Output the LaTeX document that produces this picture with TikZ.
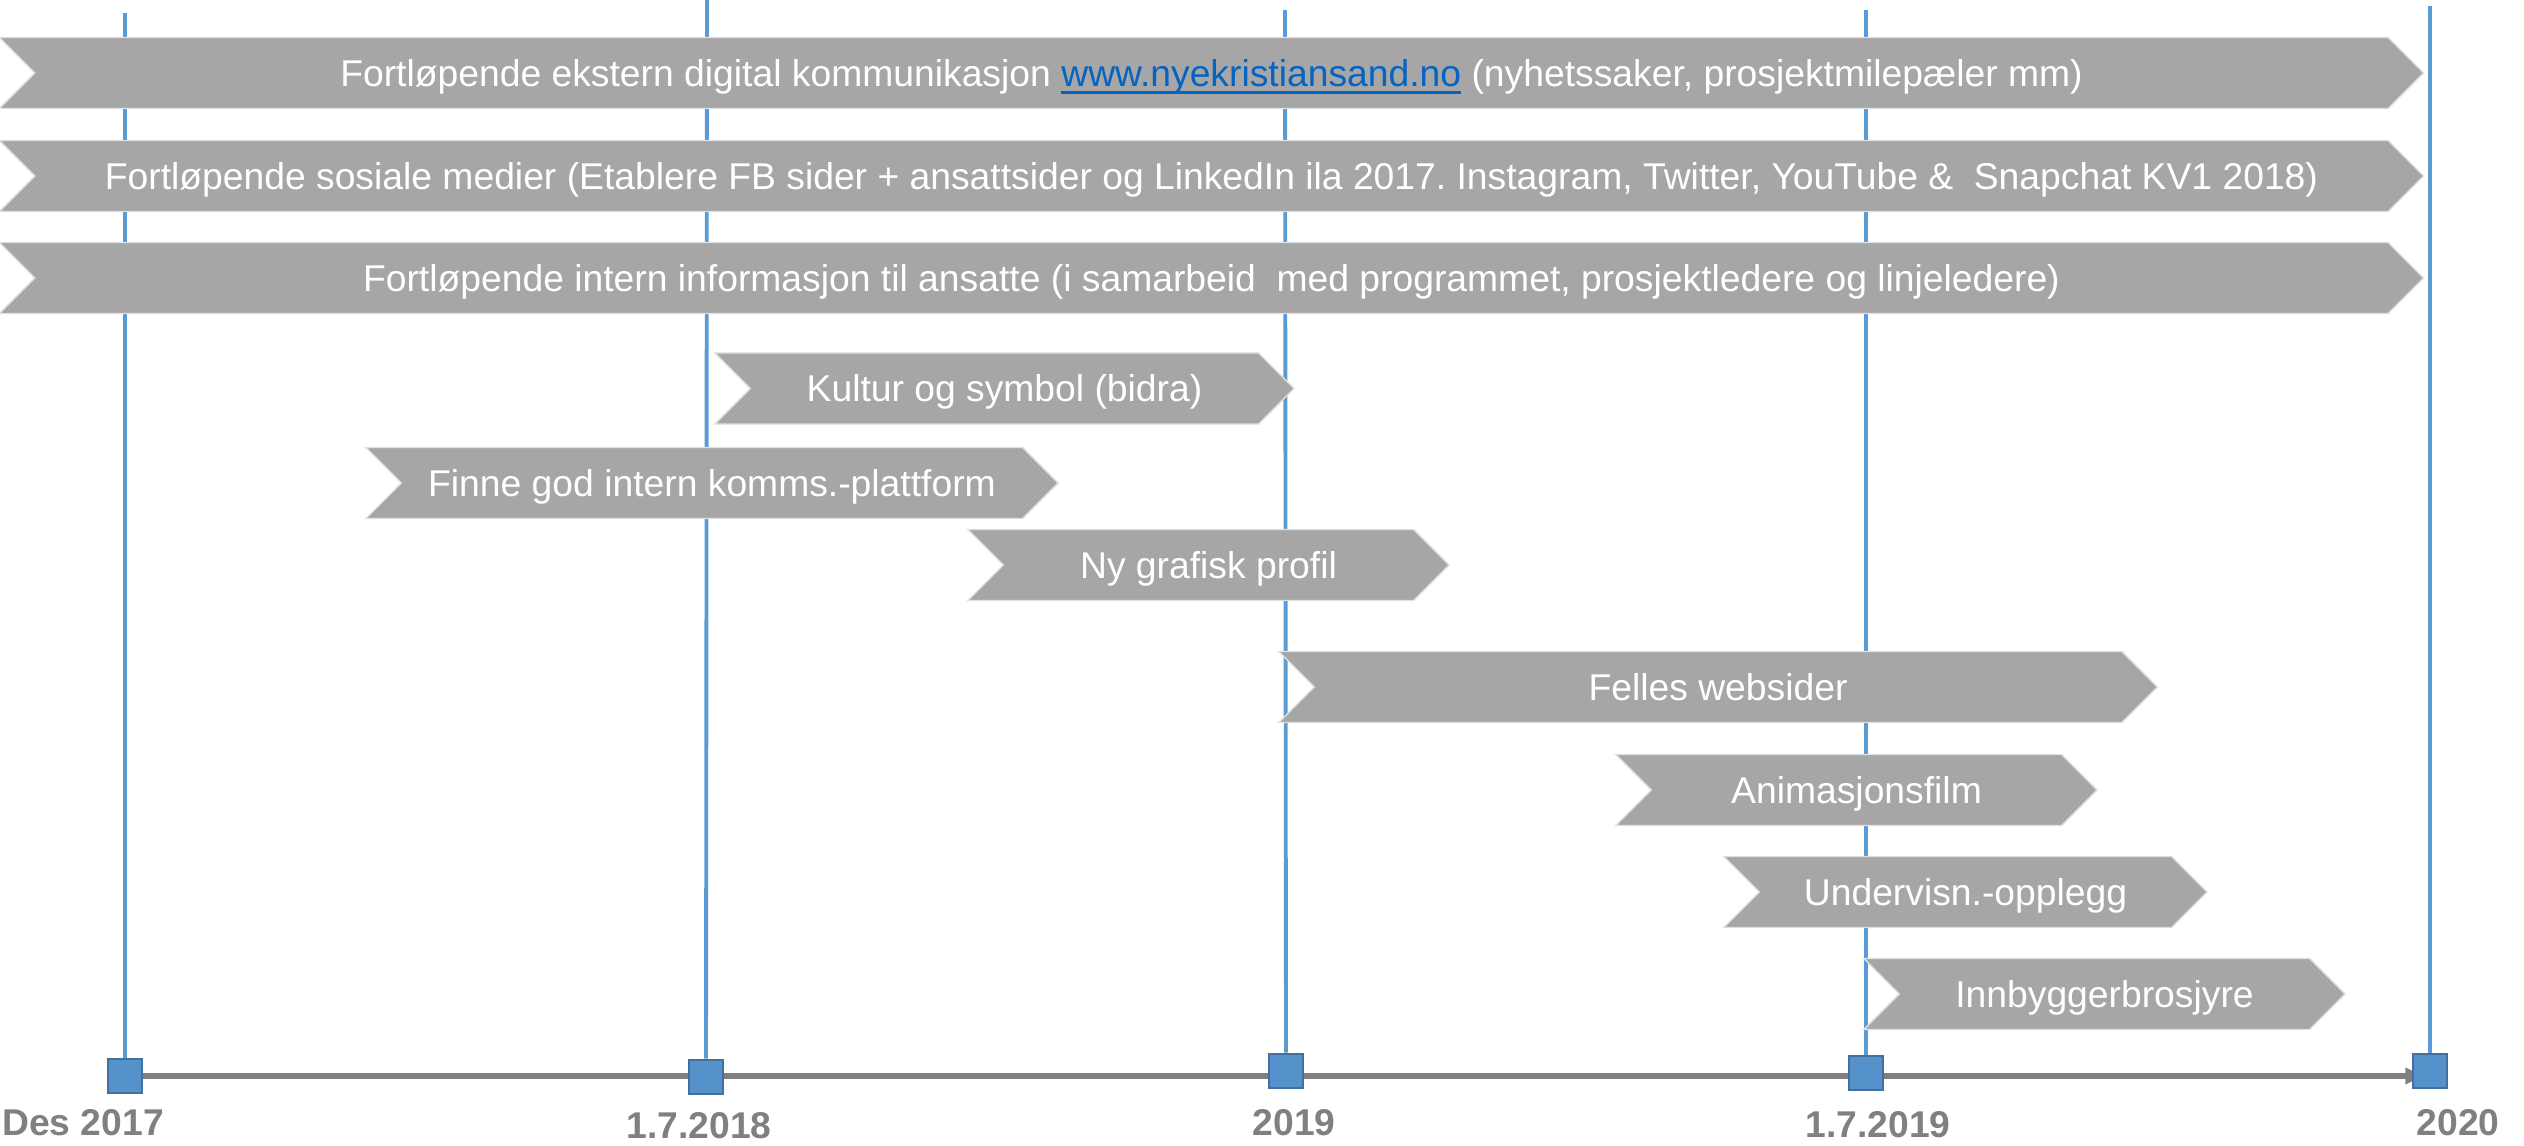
\documentclass[tikz,border=0pt]{standalone}
\usepackage{fontspec}
\setmainfont{Liberation Sans}
\usetikzlibrary{shapes.symbols}
\usetikzlibrary{backgrounds}
\usetikzlibrary{arrows.meta}
\definecolor{barGray}{RGB}{166,166,166}
\definecolor{lineBlue}{RGB}{91,155,213}
\definecolor{boxBlue}{RGB}{85,146,204}
\definecolor{boxEdge}{RGB}{65,113,156}
\definecolor{urlBlue}{RGB}{5,99,193}
\definecolor{dateGray}{RGB}{128,128,128}
\newcommand{\weblink}[1]{\setbox0\hbox{#1}\rlap{\rule[-2.3pt]{\wd0}{0.85pt}}\box0}
\frenchspacing

\begin{document}
\begin{tikzpicture}[x = 0.01cm, y = -0.01cm, task node/.style={signal, signal from=west, signal to=east, signal pointer angle=90, fill=barGray, draw=gray!25, line width=0.4pt, minimum height=0.71cm, inner sep=0pt, text height=0.75em, text depth=0pt, text=white, font=\fontsize{10.6}{12}\selectfont}, tick box/.style={rectangle, fill=boxBlue, draw=boxEdge, line width=0.75pt, minimum width=0.34cm, minimum height=0.34cm, inner sep=0pt}, date node/.style={anchor=base, text=dateGray, font=\fontsize{10.6}{12}\selectfont\bfseries}, time line/.style={line width=1.1pt, draw=lineBlue}]
      \useasboundingbox (0, 0) rectangle (2524, 1145);
      \node[task node, minimum width=24.23cm] (ekstern) at (1211.5, 73) {Fortløpende ekstern digital kommunikasjon \textcolor{urlBlue}{\weblink{www.nyekristiansand.no}} (nyhetssaker, prosjektmilepæler mm)};
      \node[task node, minimum width=24.23cm] (sosiale) at (1211.5, 176) {Fortløpende sosiale medier (Etablere FB sider + ansattsider og LinkedIn ila 2017. Instagram, Twitter, YouTube \&\ \ Snapchat KV1 2018)};
      \node[task node, minimum width=24.23cm] (intern) at (1211.5, 278) {Fortløpende intern informasjon til ansatte (i samarbeid\ \ med programmet, prosjektledere og linjeledere)};
      \node[task node, minimum width=5.79cm] (kultur) at (1004.5, 388.5) {Kultur og symbol (bidra)};
      \node[task node, minimum width=6.92cm] (plattform) at (712, 483) {Finne god intern komms.-plattform};
      \node[task node, minimum width=4.81cm] (profil) at (1208.5, 565) {Ny grafisk profil};
      \node[task node, minimum width=8.78cm] (websider) at (1718, 687) {Felles websider};
      \node[task node, minimum width=4.81cm] (film) at (1856.5, 790) {Animasjonsfilm};
      \node[task node, minimum width=4.83cm] (opplegg) at (1965.5, 892) {Undervisn.-opplegg};
      \node[task node, minimum width=4.81cm] (brosjyre) at (2104.5, 994) {Innbyggerbrosjyre};
      \node[tick box] (des17) at (125, 1076) {};
      \node[tick box] (jul18) at (706, 1077) {};
      \node[tick box] (jan19) at (1286, 1071) {};
      \node[tick box] (jul19) at (1866, 1073) {};
      \node[tick box] (jan20) at (2430, 1071) {};
      \node[date node] (lDes17) at (83, 1135) {Des 2017};
      \node[date node] (lJul18) at (699, 1138) {1.7.2018};
      \node[date node] (lJan19) at (1294, 1135) {2019};
      \node[date node] (lJul19) at (1878, 1137) {1.7.2019};
      \node[date node] (lJan20) at (2458, 1135) {2020};
      \coordinate (top1) at (125, 13);
      \coordinate (top2) at (707, 0);
      \coordinate (top3) at (1285, 10);
      \coordinate (top4) at (1866, 10);
      \coordinate (top5) at (2430, 6);
      \begin{scope}[on background layer]
      \draw[line width=1.7pt, draw=dateGray, -{Latex[length=7pt, width=5pt]}] (des17.center) -- (des17.center -| jan20.center);
      \draw[time line] (top1) -- (des17);
      \draw[time line] (top2) -- (jul18);
      \draw[time line] (top3) -- (jan19);
      \draw[time line] (top4) -- (jul19);
      \draw[time line] (top5) -- (jan20);
      \end{scope}
    \end{tikzpicture}
\end{document}
